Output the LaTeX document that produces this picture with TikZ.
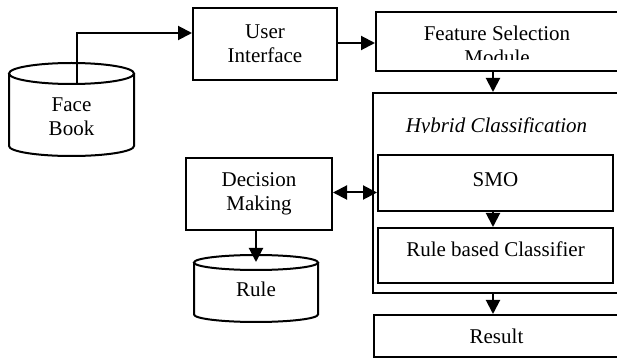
\documentclass[tikz,border=0pt]{standalone}
\usepackage{fontspec}
\setmainfont{Liberation Serif}
\usetikzlibrary{arrows.meta}
\begin{document}
\begin{tikzpicture}[x=0.5pt,y=-0.5pt,line width=1pt,
  txt/.style={font=\fontsize{10.5}{12}\selectfont},
  box/.style={draw,rectangle,inner sep=0pt,align=center,txt},
  lbl/.style={inner sep=0pt,align=center,txt},
  arr/.style={-{Triangle[length=7pt,width=7pt]}},
  darr/.style={{Triangle[length=7pt,width=7pt]}-{Triangle[length=7pt,width=7pt]}}]
\useasboundingbox (0,0) rectangle (617,358);
\clip (0,0) rectangle (617,358);

% Face Book cylinder
\draw (71.5,73.5) ellipse [x radius=31.25pt,y radius=5.25pt];
\draw (9,73.5) -- (9,146) arc[start angle=180,end angle=360,x radius=31.25pt,y radius=5pt] -- (134,73.5);
\node[lbl] (fb) at (71.5,116.5) {Face\\Book};
\coordinate (fbtop) at (77,84);

% Boxes
\node[box,minimum width=72pt,minimum height=36pt] (ui) at (265,44) {User\\Interface};
\node[box,minimum width=121.5pt,minimum height=29.5pt] (fs) at (497.5,41.5) {};
\begin{scope}
  \clip (376,12) rectangle (619,60);
  \node[lbl] (fst) at (497,45) {Feature Selection\\Module};
\end{scope}

\node[box,minimum width=123pt,minimum height=100pt] (hy) at (496,193) {};
\begin{scope}
  \clip (373,93) rectangle (619,132.5);
  \node[lbl,anchor=base,font=\fontsize{10.5}{12}\selectfont\itshape] (hyt) at (496.5,133) {Hybrid Classification};
\end{scope}

\node[box,minimum width=117.5pt,minimum height=28pt,text depth=3pt] (sm) at (495.5,183) {SMO};
\node[box,minimum width=117.5pt,minimum height=27.5pt,text depth=6pt] (rb) at (495.5,255.5) {Rule based Classifier};
\node[box,minimum width=122.5pt,minimum height=21pt] (rs) at (496.5,336) {Result};
\node[box,minimum width=73pt,minimum height=36pt] (dm) at (259,194) {Decision\\Making};

% Rule cylinder
\draw (256,262.5) ellipse [x radius=31pt,y radius=3.75pt];
\draw (194,262.5) -- (194,314.5) arc[start angle=180,end angle=360,x radius=31pt,y radius=3.75pt] -- (318,262.5);
\node[lbl] (rl) at (256,289) {Rule};
\coordinate (rltop) at (256,262);

% Connectors
\coordinate (colx) at (493,0);
\draw[arr] (fbtop) |- ([yshift=5.5pt]ui.west);
\draw[arr] ([yshift=0.5pt]ui.east) -- ([yshift=0.5pt]ui.east -| fs.west);
\draw[arr] (fs.south -| colx) -- (hy.north -| colx);
\draw[arr] (sm.south -| colx) -- (rb.north -| colx);
\draw[arr] (hy.south -| colx) -- (rs.north -| colx);
\draw[darr] ([yshift=0.75pt]dm.east) -- ([yshift=0.75pt]dm.east -| sm.west);
\draw[arr] (dm.south -| rltop) -- (rltop);
\end{tikzpicture}
\end{document}
